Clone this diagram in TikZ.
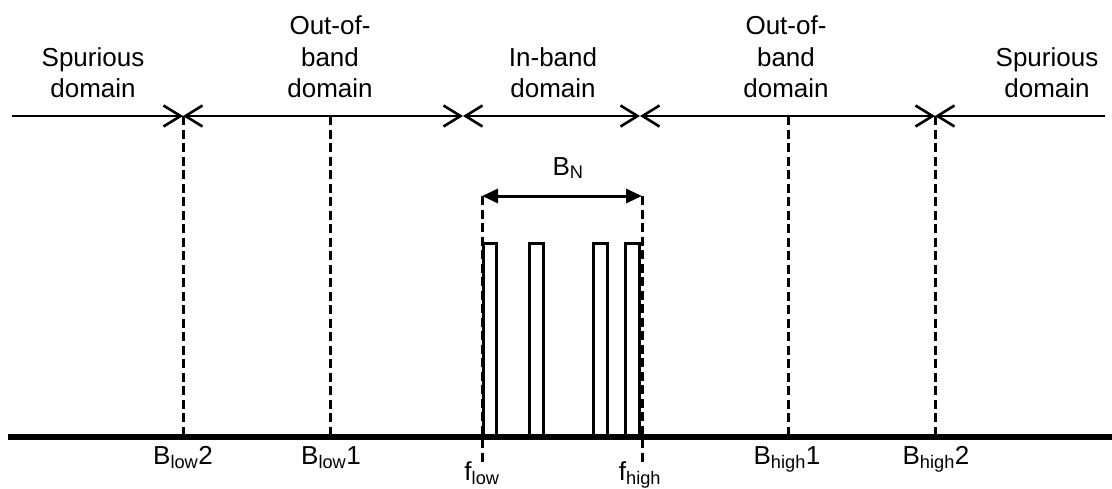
\documentclass[tikz,border=0pt]{standalone}
\usepackage{fontspec}
\setmainfont{Liberation Sans}
\usetikzlibrary{arrows.meta}

\begin{document}
\begin{tikzpicture}[x=1pt,y=1pt,yscale=-1,
  every node/.style={font=\fontsize{26}{31.5}\selectfont, inner sep=0pt},
  domlabel/.style={align=center, anchor=south},
  axlabel/.style={anchor=base},
  marker/.style={line width=3pt, dash pattern=on 9pt off 4.5pt},
  band/.style={line width=2.6pt, >={Straight Barb[length=17pt,width=21pt]}},
  pulse/.style={line width=3pt}]
\useasboundingbox (0,0) rectangle (1112,488);
% Band edges on the top line
\coordinate (topL) at (12,116);
\coordinate (lo2) at (183,116);
\coordinate (lo1) at (330,116);
\coordinate (inL) at (463,116);
\coordinate (inR) at (640,116);
\coordinate (hi1) at (788,116);
\coordinate (hi2) at (935,116);
\coordinate (topR) at (1105,116);
% Points on the frequency axis
\coordinate (axL) at (8,437);
\coordinate (axR) at (1112,437);
\coordinate (alo2) at (183,437);
\coordinate (alo1) at (330,437);
\coordinate (ahi1) at (788,437);
\coordinate (ahi2) at (935,437);
% Necessary bandwidth
\coordinate (bnL) at (482,196);
\coordinate (bnR) at (642,196);
\coordinate (flow) at (482,466);
\coordinate (fhigh) at (642,466);

%Straight Lines: domains
\draw [band,->] (topL) -- (lo2);
\draw [band,<->] (lo2) -- (inL);
\draw [band,<->] (inL) -- (inR);
\draw [band,<->] (inR) -- (hi2);
\draw [band,<-] (hi2) -- (topR);
%Straight Lines: frequency axis
\draw [line width=6.5pt] (axL) -- (axR);
%Straight Lines: band edge markers
\draw [marker] (lo2) -- (alo2);
\draw [marker] (lo1) -- (alo1);
\draw [marker] (hi1) -- (ahi1);
\draw [marker] (hi2) -- (ahi2);
\draw [marker] (bnL) -- (flow);
\draw [marker] (bnR) -- (fhigh);
%Straight Lines: B_N
\draw [line width=3pt, {Triangle[length=16pt,width=14pt]}-{Triangle[length=16pt,width=14pt]}] (bnL) -- (bnR);
%Emissions
\foreach \xa/\xb in {483/496, 529/543, 593/607, 625/639}
  \draw [pulse] (\xa,437) -- (\xa,243) -- (\xb,243) -- (\xb,437);

% Text Node
\node [domlabel] (spurL) at (93,98) {Spurious\\domain};
% Text Node
\node [domlabel] (oobL) at (330,98) {Out-of-\\band\\domain};
% Text Node
\node [domlabel] (inb) at (553,98) {In-band\\domain};
% Text Node
\node [domlabel] (oobR) at (786,98) {Out-of-\\band\\domain};
% Text Node
\node [domlabel] (spurR) at (1047,98) {Spurious\\domain};
% Text Node
\node [axlabel] (bn) at (568,175) {B\textsubscript{N}};
% Text Node
\node [axlabel] (blo2) at (183,464) {B\textsubscript{low}2};
\node [axlabel] (blo1) at (331,464) {B\textsubscript{low}1};
\node [axlabel] (bhi1) at (787,464) {B\textsubscript{high}1};
\node [axlabel] (bhi2) at (936,464) {B\textsubscript{high}2};
% Text Node
\node [axlabel] (fl) at (482,480) {f\textsubscript{low}};
\node [axlabel] (fh) at (640,480) {f\textsubscript{high}};
\end{tikzpicture}
\end{document}
